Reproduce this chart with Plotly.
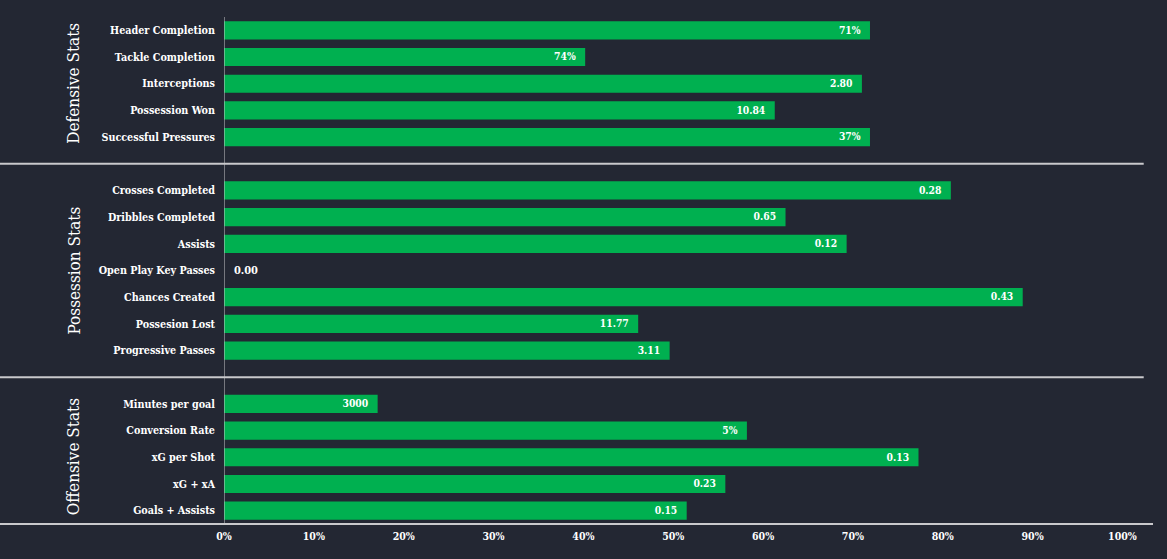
import plotly.graph_objects as go

# ---- data ----
groups = ["Defensive Stats", "Possession Stats", "Offensive Stats"]
defensive_labels = ["Header Completion", "Tackle Completion", "Interceptions",
                    "Possession Won", "Successful Pressures"]
defensive_pct = [71.9, 40.2, 71.0, 61.3, 71.9]
defensive_text = ["71%", "74%", "2.80", "10.84", "37%"]

possession_labels = ["Crosses Completed", "Dribbles Completed", "Assists",
                     "Open Play Key Passes", "Chances Created", "Possesion Lost",
                     "Progressive Passes"]
possession_pct = [80.9, 62.5, 69.3, 0.0, 88.9, 46.1, 49.6]
possession_text = ["0.28", "0.65", "0.12", "0.00", "0.43", "11.77", "3.11"]

offensive_labels = ["Minutes per goal", "Conversion Rate", "xG per Shot",
                    "xG + xA", "Goals + Assists"]
offensive_pct = [17.1, 58.2, 77.3, 55.8, 51.5]
offensive_text = ["3000", "5%", "0.13", "0.23", "0.15"]

x_ticks = [0, 10, 20, 30, 40, 50, 60, 70, 80, 90, 100]

# ---- build rows with a blank slot between groups ----
group_data = [
    (defensive_labels, defensive_pct, defensive_text),
    (possession_labels, possession_pct, possession_text),
    (offensive_labels, offensive_pct, offensive_text),
]
ys, xs, labels, texts = [], [], [], []
group_centers, separators = [], []
pos = 0
for gi, (lab, pct, txt) in enumerate(group_data):
    start = pos
    for l, p, t in zip(lab, pct, txt):
        ys.append(pos); xs.append(p); labels.append(l); texts.append(t)
        pos += 1
    group_centers.append((start + pos - 1) / 2)
    if gi < len(group_data) - 1:
        separators.append(pos)
        pos += 1
n_slots = pos

BG = "#232733"
GREEN = "#00B050"
LINE = "#c9c9cc"
FONT = "DejaVu Serif Condensed, DejaVu Serif"

textpos = ["outside" if v < 3 else "inside" for v in xs]
templates = ["\u00a0\u00a0%{text}" if p == "outside" else "%{text}\u00a0\u00a0" for p in textpos]

fig = go.Figure(go.Bar(
    x=xs, y=ys, orientation="h", width=0.68,
    marker=dict(color=GREEN, line=dict(width=0)),
    text=texts, texttemplate=templates, textposition=textpos, insidetextanchor="end",
    textfont=dict(family=FONT, size=11, color="white", weight="bold"),
    cliponaxis=False, hoverinfo="skip",
))

L, R, T, B = 224, 14, 17, 35
W, H = 1167, 559
pw = W - L - R
x_left_paper = -L / pw

shapes = []
for s in separators:
    shapes.append(dict(type="line", xref="paper", yref="y", x0=x_left_paper, x1=0.99,
                       y0=s, y1=s, line=dict(color=LINE, width=2)))
shapes.append(dict(type="line", xref="paper", yref="paper", x0=x_left_paper, x1=1,
                   y0=0, y1=0, line=dict(color=LINE, width=2)))
shapes.append(dict(type="line", xref="x", yref="paper", x0=0, x1=0,
                   y0=0, y1=1, line=dict(color=LINE, width=1)))

annotations = []
for g, c in zip(groups, group_centers):
    annotations.append(dict(text=g, xref="paper", yref="y", x=(73 - L) / pw, y=c,
                            textangle=-90, showarrow=False, xanchor="center", yanchor="middle",
                            font=dict(family=FONT, size=17, color="white")))

fig.update_layout(
    width=W, height=H,
    paper_bgcolor=BG, plot_bgcolor=BG,
    margin=dict(l=L, r=R, t=T, b=B),
    showlegend=False,
    shapes=shapes, annotations=annotations,
    xaxis=dict(range=[0, 103.4], tickvals=x_ticks, ticktext=[f"{v}%" for v in x_ticks],
               showgrid=False, zeroline=False, showline=False, ticks="",
               ticklabelstandoff=4,
               tickfont=dict(family=FONT, size=10.5, color="white", weight="bold")),
    yaxis=dict(range=[n_slots - 0.5, -0.5], tickvals=ys, ticktext=labels,
               showgrid=False, zeroline=False, showline=False, ticks="",
               ticklabelstandoff=8,
               tickfont=dict(family=FONT, size=10.7, color="white", weight="bold")),
)

fig.write_html("out.html", config={"displayModeBar": False},
               post_script="document.body.style.margin='0';document.body.style.background='%s';" % BG)
